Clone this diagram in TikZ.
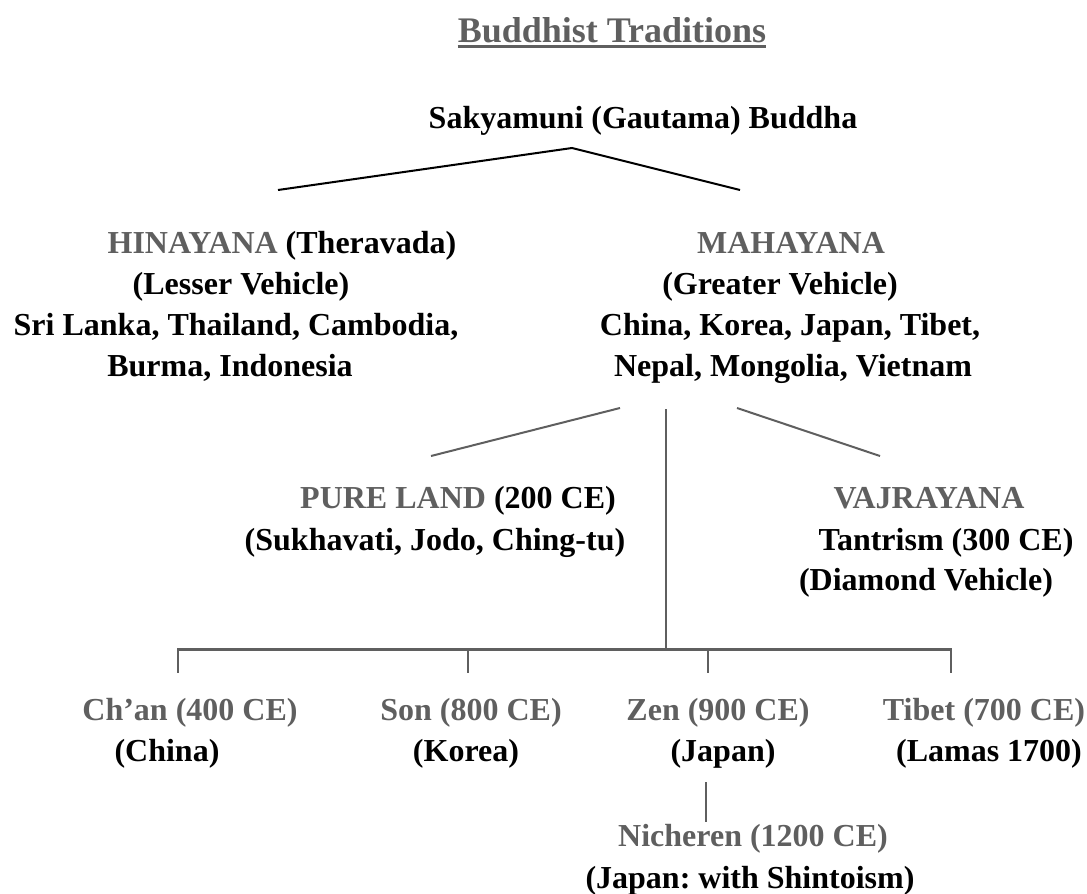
\documentclass[tikz,border=0pt]{standalone}
\usepackage{fontspec}
\setmainfont{Liberation Serif}
\definecolor{tgray}{HTML}{5F5F5F}
\frenchspacing
\begin{document}
\begin{tikzpicture}[x=1pt,y=-1pt,
  txt/.style={anchor=base,inner sep=0pt,font=\fontsize{32}{38}\selectfont\bfseries\frenchspacing,text=black},
  gtxt/.style={txt,text=tgray},
  ttl/.style={anchor=base,inner sep=0pt,font=\fontsize{36}{42}\selectfont\bfseries,text=tgray},
  blk/.style={draw=black,line width=2pt},
  gln/.style={draw=tgray,line width=2pt},
  bar/.style={draw=tgray,line width=3pt},
  drop/.style={draw=tgray,line width=1.2pt}]
\useasboundingbox (0,0) rectangle (1087,894);
% title
\node[ttl] (tit) at (612,42) {Buddhist Traditions};
\draw[tgray,line width=3pt] ([yshift=-4.5pt]tit.base west) -- ([yshift=-4.5pt]tit.base east);
% root
\node[txt] (root) at (643,128) {Sakyamuni (Gautama) Buddha};
\coordinate (apex) at (572,148);
\coordinate (hinTop) at (278,190);
\coordinate (mahTop) at (740,190);
\draw[blk] (hinTop) -- (apex) -- (mahTop);
% Hinayana
\node[txt] (hin1) at (282,253) {\textcolor{tgray}{HINAYANA} (Theravada)};
\node[txt] (hin2) at (241,294) {(Lesser Vehicle)};
\node[txt] (hin3) at (236,335) {Sri Lanka, Thailand, Cambodia,};
\node[txt] (hin4) at (230,376) {Burma, Indonesia};
% Mahayana
\node[gtxt] (mah1) at (791,253) {MAHAYANA};
\node[txt] (mah2) at (780,294) {(Greater Vehicle)};
\node[txt] (mah3) at (790,335) {China, Korea, Japan, Tibet,};
\node[txt] (mah4) at (793,376) {Nepal, Mongolia, Vietnam};
% Mahayana branches
\coordinate (mL) at (620,408);
\coordinate (mC) at (666,409);
\coordinate (mR) at (737,408);
\coordinate (pTop) at (431,456);
\coordinate (vTop) at (880,456);
\coordinate (barC) at (666,649);
\draw[gln] (mL) -- (pTop);
\draw[gln] (mR) -- (vTop);
\draw[gln] (mC) -- (barC);
% Pure Land
\node[txt] (pl1) at (458,508) {\textcolor{tgray}{PURE LAND} (200 CE)};
\node[txt] (pl2) at (435,550) {(Sukhavati, Jodo, Ching-tu)};
% Vajrayana
\node[gtxt] (vj1) at (929,508) {VAJRAYANA};
\node[txt] (vj2) at (946,550) {Tantrism (300 CE)};
\node[txt] (vj3) at (926,590) {(Diamond Vehicle)};
% bar and drops
\coordinate (b1) at (178,649);
\coordinate (b2) at (468,649);
\coordinate (b3) at (708,649);
\coordinate (b4) at (951,649);
\coordinate (d1) at (178,673);
\coordinate (d2) at (468,673);
\coordinate (d3) at (708,673);
\coordinate (d4) at (951,673);
\draw[bar] ([xshift=-0.6pt]b1) -- ([xshift=0.6pt]b4);
\draw[drop] (b1) -- (d1);
\draw[drop] (b2) -- (d2);
\draw[drop] (b3) -- (d3);
\draw[drop] (b4) -- (d4);
% schools
\node[gtxt] (chan) at (190,720) {Ch’an (400 CE)};
\node[txt] (chan2) at (167,761) {(China)};
\node[gtxt] (son) at (471,720) {Son (800 CE)};
\node[txt] (son2) at (466,761) {(Korea)};
\node[gtxt] (zen) at (718,720) {Zen (900 CE)};
\node[txt] (zen2) at (723,761) {(Japan)};
\node[gtxt] (tib) at (984,720) {Tibet (700 CE)};
\node[txt] (tib2) at (989,761) {(Lamas 1700)};
% Nicheren
\coordinate (zd1) at (706,782);
\coordinate (zd2) at (706,822);
\draw[drop] (zd1) -- (zd2);
\node[gtxt] (nic) at (753,846) {Nicheren (1200 CE)};
\node[txt] (nic2) at (750,888) {(Japan: with Shintoism)};
\end{tikzpicture}
\end{document}
